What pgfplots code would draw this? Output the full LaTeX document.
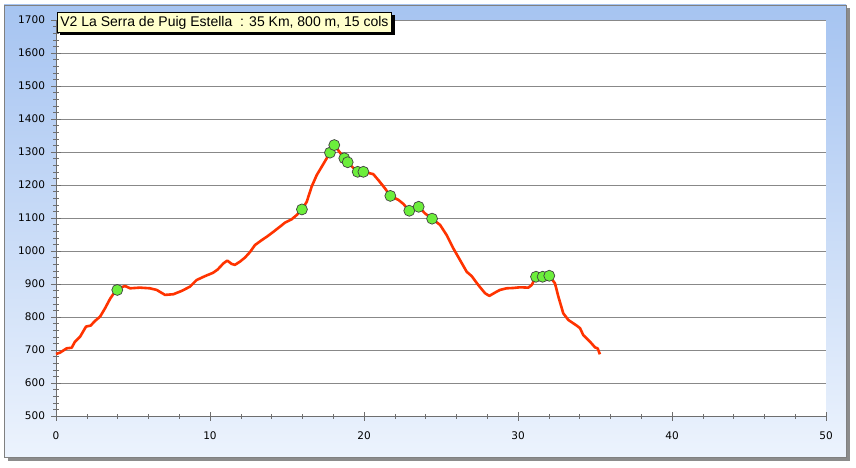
\documentclass[border=0pt]{standalone}
\usepackage{pgfplots}
\pgfplotsset{compat=1.18}
\usepackage{fontspec}
\setmainfont{DejaVu Sans}
\newfontfamily\titlefont{Liberation Sans}
\usetikzlibrary{shadows}
\definecolor{lineRed}{RGB}{255,51,0}
\definecolor{mkGreen}{RGB}{108,238,60}
\definecolor{bgTop}{RGB}{166,196,241}
\definecolor{bgBot}{RGB}{236,243,253}
\definecolor{gridGray}{RGB}{136,136,136}
\definecolor{axGray}{RGB}{110,110,110}
\definecolor{boxYellow}{RGB}{255,255,204}
\begin{document}
\begin{tikzpicture}
\useasboundingbox (0pt,0pt) rectangle (856pt,467pt);
\fill[black!45] (8pt,6pt) rectangle (850pt,459pt);
\shade[top color=bgTop, bottom color=bgBot] (4pt,10pt) rectangle (846pt,462pt);
\draw[gray, line width=0.8pt] (4pt,10pt) rectangle (846pt,462pt);
\begin{axis}[
  at={(56pt,51pt)}, anchor=south west, scale only axis,
  width=770pt, height=396pt,
  xmin=0, xmax=50, ymin=500, ymax=1700, enlargelimits=false,
  xtick distance=10, ytick distance=100, minor tick num=4,
  axis lines=left, axis line style={-, draw=axGray, line width=0.8pt},
  ymajorgrids, grid style={gridGray, line width=0.8pt},
  tick style={axGray, line width=0.6pt}, tick align=center,
  major tick length=9pt, minor tick length=5pt,
  axis background/.style={fill=white},
  tick label style={font=\fontsize{10.5}{11}\selectfont, black},
  /pgf/number format/assume math mode=true,
  /pgf/number format/set thousands separator={},
  xticklabel style={yshift=-8pt},
  yticklabel style={xshift=-3pt},
  clip=false,
]
\addplot[lineRed, line width=2.6pt, line join=round] coordinates {
(0,688) (0.26,692) (0.69,705) (1.02,707) (1.23,725) (1.56,740) (1.95,771)
(2.25,774) (2.53,788) (2.86,801) (3.18,826) (3.51,855) (3.83,877) (3.98,882)
(4.26,890) (4.48,894) (4.81,887) (5.45,889) (6.1,887) (6.54,882) (7.08,867)
(7.62,869) (8.16,879) (8.7,892) (9.13,912) (9.68,924) (10.2,934) (10.5,944)
(10.86,962) (11.12,971) (11.4,961) (11.62,958) (11.95,968) (12.27,980)
(12.6,997) (12.92,1018) (13.36,1033) (13.68,1043) (14.11,1058) (14.55,1074)
(14.87,1086) (15.3,1096) (15.63,1109) (15.97,1126) (16.28,1149) (16.6,1195)
(16.93,1230) (17.25,1255) (17.58,1281) (17.79,1298) (18.07,1321) (18.72,1281)
(18.94,1269) (19.3,1252) (19.59,1240) (19.96,1240) (20.6,1233) (20.93,1215)
(21.36,1190) (21.71,1167) (22.23,1155) (22.55,1143) (22.94,1122) (23.55,1134)
(23.96,1114) (24.42,1098) (24.94,1079) (25.37,1048) (25.8,1008) (26.23,973)
(26.67,937) (26.99,924) (27.42,897) (27.86,872) (28.14,864) (28.62,877)
(28.83,882) (29.26,887) (29.7,888) (30.13,890) (30.67,889) (30.89,897)
(31.17,922) (31.6,922) (32.03,925) (32.4,902) (32.62,862) (32.94,811)
(33.27,791) (33.81,774) (34.03,766) (34.24,745) (34.68,725) (35.0,708)
(35.17,705) (35.32,687)
};
\addplot[only marks, mark=*, mark size=5.5pt,
  mark options={fill=mkGreen, draw=black!75, line width=0.7pt}] coordinates {
(3.98,882) (15.97,1126) (17.79,1298) (18.07,1321) (18.72,1281) (18.94,1269)
(19.59,1240) (19.96,1240) (21.71,1167) (22.94,1122) (23.55,1134) (24.42,1098)
(31.17,922) (31.6,922) (32.03,925)
};
\end{axis}
\node[anchor=north west, fill=boxYellow, draw=black, line width=0.8pt,
  inner xsep=3pt, inner ysep=0pt, minimum height=20pt,
  drop shadow={shadow xshift=3pt, shadow yshift=-3pt, fill=black, opacity=1},
  font=\titlefont\fontsize{14}{15}\selectfont] at (57pt,455pt)
  {V2 La Serra de Puig Estella\ \ : 35 Km, 800 m, 15 cols};
\end{tikzpicture}
\end{document}
